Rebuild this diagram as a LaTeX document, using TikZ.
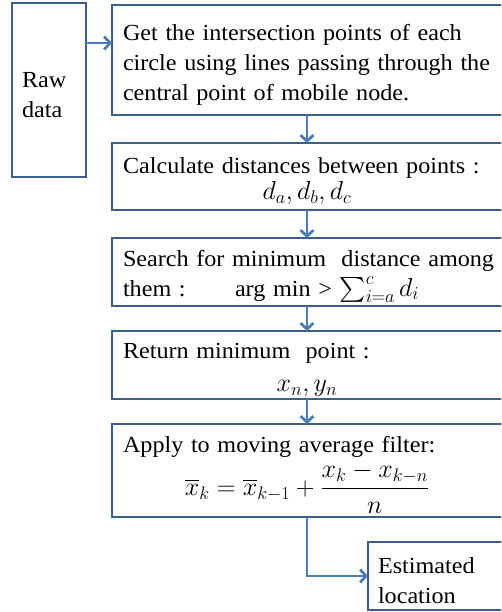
\RequirePackage{fix-cm}
\documentclass[tikz,border=0pt]{standalone}
\usepackage{amsmath}
\usepackage{fontspec}
\setmainfont[FakeStretch=1.05]{Liberation Serif}
\usepackage{tikz}
\usetikzlibrary{arrows.meta,positioning}

\definecolor{boxline}{RGB}{58,95,139}
\definecolor{flowline}{RGB}{74,126,187}
\newcommand{\midrow}[1]{\makebox[368pt]{\fontsize{26}{30}\selectfont #1}}
\newcommand{\bigmath}[1]{{\fontsize{26}{30}\selectfont #1}}

\begin{document}
\begin{tikzpicture}[x=1pt,y=-1pt,>={Straight Barb[length=6pt,width=13pt]},
  stepbox/.style={draw=boxline,line width=2.8pt,anchor=north west,align=left,
    inner xsep=11pt,inner ysep=0pt,outer sep=0pt,
    execute at begin node=\rule{0pt}{25pt},
    font=\fontsize{23}{30}\selectfont},
  flow/.style={draw=flowline,line width=2.8pt,->}]
\useasboundingbox (0,0) rectangle (501,612);
\clip (0,0) rectangle (501,612);
% input
\node[stepbox,inner xsep=10pt,text width=54pt,minimum height=174pt] (raw) at (12,3) {Raw\\ data};
% steps
\node[stepbox,text width=380pt,minimum height=110pt] (getpts) at (112,5)
  {Get the intersection points of each\\ circle using lines passing through the\\ central point of mobile node.};
\node[stepbox,text width=380pt,minimum height=67pt] (dist) at (112,143)
  {Calculate distances between points :\\[-4pt] \midrow{$d_a, d_b, d_c$}};
\node[stepbox,text width=380pt,minimum height=68pt] (search) at (112,238)
  {Search for minimum\ \ distance among\\ \makebox[112pt][l]{them :}arg min > \bigmath{$\sum_{i=a}^{c} d_i$}};
\node[stepbox,text width=380pt,minimum height=68pt] (minpt) at (112,331)
  {Return minimum\ \ point :\\[3pt] \midrow{$x_n, y_n$}};
\node[stepbox,text width=380pt,minimum height=93pt] (filter) at (112,424)
  {Apply to moving average filter:\\[4pt] \midrow{$\displaystyle \overline{x}_k = \overline{x}_{k-1} + \frac{x_k - x_{k-n}}{n}$}};
% output
\node[stepbox,inner xsep=10pt,text width=120pt,minimum height=68pt] (est) at (368,542) {Estimated\\ location};
% connectors
\coordinate (rawout) at (86,43);
\coordinate (mid) at (307,0);
\draw[flow] (rawout) -- (rawout -| getpts.west);
\draw[flow] (getpts.south -| mid) -- (dist.north -| mid);
\draw[flow] (dist.south -| mid) -- (search.north -| mid);
\draw[flow] (search.south -| mid) -- (minpt.north -| mid);
\draw[flow] (minpt.south -| mid) -- (filter.north -| mid);
\draw[flow] (filter.south -| mid) |- (est.west);
\end{tikzpicture}
\end{document}
